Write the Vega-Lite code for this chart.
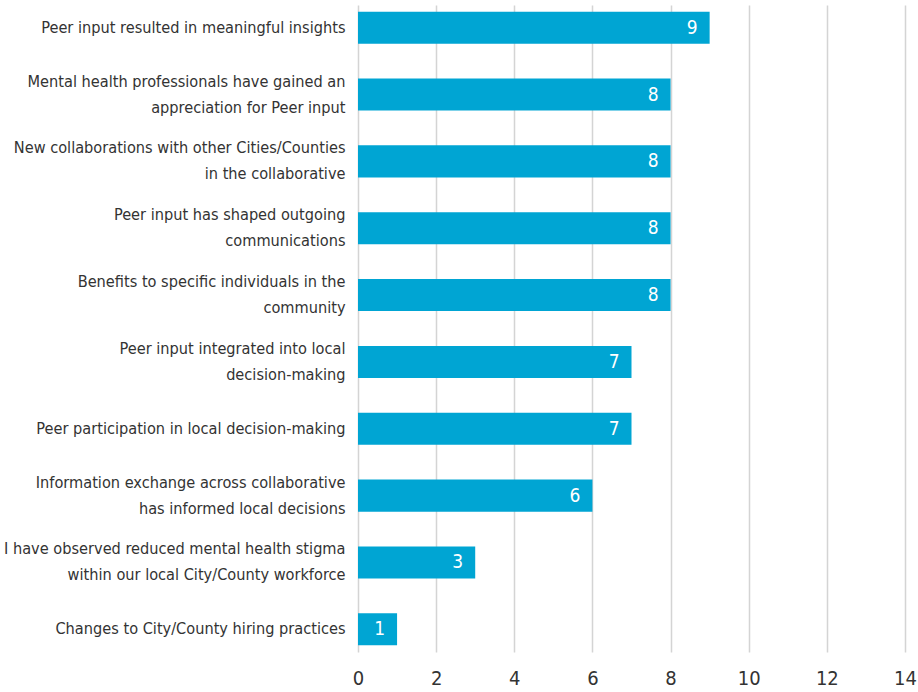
{
  "$schema": "https://vega.github.io/schema/vega-lite/v6.json",
  "width": 547,
  "height": 647,
  "autosize": {"type": "none"},
  "padding": {"left": 358, "top": 5, "right": 13, "bottom": 40},
  "config": {
    "view": {"stroke": null},
    "font": "DejaVu Sans Condensed, Roboto"
  },
  "data": {
    "values": [
      {"item": "Peer input resulted in meaningful insights", "count": 9},
      {"item": "Mental health professionals have gained an|appreciation for Peer input", "count": 8},
      {"item": "New collaborations with other Cities/Counties|in the collaborative", "count": 8},
      {"item": "Peer input has shaped outgoing|communications", "count": 8},
      {"item": "Benefits to specific individuals in the|community", "count": 8},
      {"item": "Peer input integrated into local|decision-making", "count": 7},
      {"item": "Peer participation in local decision-making", "count": 7},
      {"item": "Information exchange across collaborative|has informed local decisions", "count": 6},
      {"item": "I have observed reduced mental health stigma|within our local City/County workforce", "count": 3},
      {"item": "Changes to City/County hiring practices", "count": 1}
    ]
  },
  "encoding": {
    "y": {
      "field": "item",
      "type": "nominal",
      "sort": null,
      "scale": {"paddingInner": 0.52, "paddingOuter": 0.1},
      "axis": {
        "title": null,
        "domain": false,
        "ticks": false,
        "grid": false,
        "labelExpr": "split(datum.label, '|')",
        "labelFont": "DejaVu Sans Condensed, Roboto",
        "labelFontSize": 16.2,
        "labelColor": "#333333",
        "labelLineHeight": 26,
        "labelPadding": 13,
        "labelLimit": 400,
        "labelOffset": {"condition": {"test": "indexof(datum.value, '|') >= 0", "value": -13}, "value": 0}
      }
    },
    "x": {
      "field": "count",
      "type": "quantitative",
      "scale": {"domain": [0, 14]},
      "axis": {
        "title": null,
        "values": [0, 2, 4, 6, 8, 10, 12, 14],
        "domain": false,
        "ticks": false,
        "grid": true,
        "gridColor": "#d4d4d4",
        "gridWidth": 1.5,
        "labelFlush": false,
        "labelFont": "DejaVu Sans Condensed, Roboto",
        "labelFontSize": 20,
        "labelColor": "#333333",
        "labelPadding": 16
      }
    }
  },
  "layer": [
    {"mark": {"type": "bar", "color": "#00A5D3"}},
    {
      "mark": {
        "type": "text",
        "align": "right",
        "baseline": "middle",
        "dx": -12,
        "color": "#ffffff",
        "fontSize": 19,
        "font": "DejaVu Sans Condensed, Roboto"
      },
      "encoding": {"text": {"field": "count", "type": "quantitative"}}
    }
  ]
}
